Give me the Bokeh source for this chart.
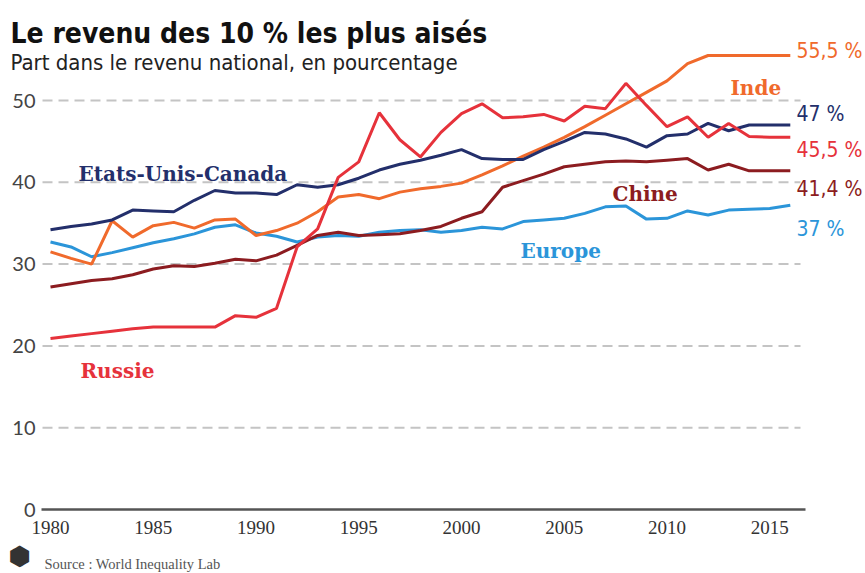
from bokeh.plotting import figure
from bokeh.models import Range1d, Label, FixedTicker
from bokeh.embed import file_html
from bokeh.resources import INLINE

years = list(range(1980, 2017))

usa_canada = [34.2, 34.6, 34.9, 35.4, 36.6, 36.5, 36.4, 37.8, 39.0, 38.7,
              38.7, 38.5, 39.7, 39.4, 39.7, 40.5, 41.5, 42.2, 42.7, 43.3,
              44.0, 42.9, 42.8, 42.8, 44.0, 45.0, 46.1, 45.9, 45.3, 44.3,
              45.7, 45.9, 47.2, 46.3, 47.0, 47.0, 47.0]
inde = [31.5, 30.7, 30.0, 35.3, 33.3, 34.7, 35.1, 34.4, 35.4, 35.5,
        33.5, 34.1, 35.0, 36.4, 38.2, 38.5, 38.0, 38.8, 39.2, 39.5,
        39.9, 40.9, 42.0, 43.2, 44.3, 45.5, 46.8, 48.2, 49.6, 51.0,
        52.4, 54.5, 55.5, 55.5, 55.5, 55.5, 55.5]
europe = [32.7, 32.1, 30.9, 31.4, 32.0, 32.6, 33.1, 33.7, 34.5, 34.8,
          33.8, 33.4, 32.7, 33.3, 33.5, 33.4, 33.9, 34.1, 34.2, 33.9,
          34.1, 34.5, 34.3, 35.2, 35.4, 35.6, 36.2, 37.0, 37.1, 35.5,
          35.6, 36.5, 36.0, 36.6, 36.7, 36.8, 37.2]
chine = [27.2, 27.6, 28.0, 28.2, 28.7, 29.4, 29.8, 29.7, 30.1, 30.6,
         30.4, 31.1, 32.3, 33.5, 33.9, 33.5, 33.6, 33.7, 34.1, 34.6,
         35.6, 36.4, 39.4, 40.2, 41.0, 41.9, 42.2, 42.5, 42.6, 42.5,
         42.7, 42.9, 41.5, 42.2, 41.4, 41.4, 41.4]
russie = [20.9, 21.2, 21.5, 21.8, 22.1, 22.3, 22.3, 22.3, 22.3, 23.7,
          23.5, 24.6, 32.1, 34.3, 40.6, 42.5, 48.5, 45.2, 43.1, 46.1,
          48.4, 49.6, 47.9, 48.0, 48.3, 47.5, 49.3, 49.0, 52.1, 49.4,
          46.8, 48.0, 45.5, 47.2, 45.6, 45.5, 45.5]

x_ticks = [1980, 1985, 1990, 1995, 2000, 2005, 2010, 2015]
y_ticks = [0, 10, 20, 30, 40, 50]
grid_values = [10, 20, 30, 40, 50]

series_names = ["Etats-Unis-Canada", "Inde", "Chine", "Europe", "Russie"]
end_labels = ["47 %", "55,5 %", "41,4 %", "37 %", "45,5 %"]

title_text = "Le revenu des 10 % les plus aisés"
subtitle_text = "Part dans le revenu national, en pourcentage"
source_text = "Source : World Inequality Lab"

C_NAVY = "#232f6b"
C_ORANGE = "#f06a2c"
C_RED = "#e6323b"
C_DRED = "#8c1c20"
C_BLUE = "#2b95d9"

W, H = 865, 573
PX_YEAR = 20.55
PX_UNIT = 8.18
X1980 = 50   # pixel column of 1980
Y0 = 509     # pixel row of value 0
x0 = 1980 - X1980 / PX_YEAR
x1 = x0 + W / PX_YEAR
y0 = -(H - Y0) / PX_UNIT
y1 = y0 + H / PX_UNIT


def ax(px):
    return x0 + px / PX_YEAR


def ay(py):
    return (Y0 - py) / PX_UNIT


p = figure(width=W, height=H, output_backend="svg", toolbar_location=None,
           x_range=Range1d(x0, x1), y_range=Range1d(y0, y1), min_border=0)
p.outline_line_color = None
p.background_fill_color = "white"
p.border_fill_color = "white"

# axes drawn at fixed data locations inside the frame
p.xaxis.fixed_location = 0
p.xaxis.bounds = (ax(41), ax(805))
p.yaxis.fixed_location = ax(42)
p.xaxis.ticker = FixedTicker(ticks=x_ticks)
p.yaxis.ticker = FixedTicker(ticks=y_ticks)
p.xaxis.axis_line_color = "#555555"
p.xaxis.axis_line_width = 2.5
p.xaxis.major_tick_line_color = None
p.xaxis.minor_tick_line_color = None
p.xaxis.major_tick_out = 0
p.xaxis.major_tick_in = 0
p.xaxis.major_label_text_font = "Liberation Serif"
p.xaxis.major_label_text_font_size = "19px"
p.xaxis.major_label_text_color = "#333333"
p.xaxis.major_label_standoff = 11
p.yaxis.axis_line_color = None
p.yaxis.major_tick_line_color = None
p.yaxis.minor_tick_line_color = None
p.yaxis.major_tick_out = 0
p.yaxis.major_tick_in = 0
p.yaxis.major_label_text_font = "Lato"
p.yaxis.major_label_text_font_size = "20px"
p.yaxis.major_label_text_color = "#444444"
p.yaxis.major_label_standoff = 7

p.xgrid.grid_line_color = None
p.ygrid.grid_line_color = None

# dashed horizontal guides
p.segment(x0=[ax(42)] * len(grid_values), x1=[ax(800)] * len(grid_values),
          y0=grid_values, y1=grid_values, line_color="#c4c4c4",
          line_width=2, line_dash="10 6")

# lines
p.line(years, europe, line_color=C_BLUE, line_width=3)
p.line(years, chine, line_color=C_DRED, line_width=3)
p.line(years, inde, line_color=C_ORANGE, line_width=3)
p.line(years, usa_canada, line_color=C_NAVY, line_width=3)
p.line(years, russie, line_color=C_RED, line_width=3)


def add_text(txt, px, py, font, size, color, style="normal", align="left", baseline="alphabetic"):
    p.add_layout(Label(x=ax(px), y=ay(py), text=txt, text_font=font,
                       text_font_size=size, text_color=color, text_font_style=style,
                       text_align=align, text_baseline=baseline))


NARROW = "Liberation Sans Narrow, DejaVu Sans Condensed, sans-serif"
SLAB = "DejaVu Serif"

add_text(title_text, 10, 33, NARROW, "28px", "#111111", "bold")
add_text(subtitle_text, 10, 62, NARROW, "22px", "#222222")

label_colors = [C_NAVY, C_ORANGE, C_DRED, C_BLUE, C_RED]
label_pos = [(78, 173), (730, 87), (612, 193), (520, 250), (80, 370)]
for name, col, (lx, ly) in zip(series_names, label_colors, label_pos):
    add_text(name, lx, ly, SLAB, "20px", col, "bold")

end_colors = [C_NAVY, C_ORANGE, C_DRED, C_BLUE, C_RED]
end_pos = [113, 50, 188, 228, 149]
for txt, col, ly in zip(end_labels, end_colors, end_pos):
    add_text(txt, 796, ly, NARROW, "21px", col)

add_text("\u2b22", 19, 555, "DejaVu Sans", "26px", "#333333", align="center", baseline="middle")
add_text(source_text, 44, 563, "Liberation Serif", "14.5px", "#555555")

open("out.html", "w").write(file_html(p, INLINE))
